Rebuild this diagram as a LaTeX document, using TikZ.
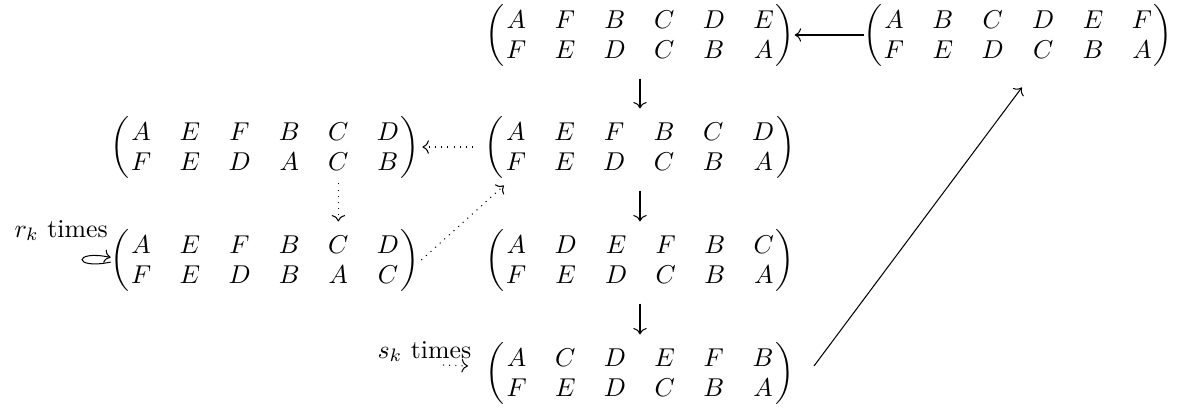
\documentclass[tikz,border=0pt]{standalone}
\usetikzlibrary{matrix,arrows.meta}
\begin{document}
\begin{tikzpicture}[x=0.3876pt,y=-0.3876pt,
  pm/.style={matrix of math nodes,
    inner xsep=0.5pt, inner ysep=2.5pt, column sep=11pt, row sep=4.8pt,
    nodes={inner sep=0pt, minimum width=7.6pt, text height=6.83pt, text depth=0pt, anchor=center}},
  lp/.style={anchor=east, inner sep=0pt, outer sep=0pt},
  rp/.style={anchor=west, inner sep=0pt, outer sep=0pt},
  cmarrow/.style={-{Computer Modern Rightarrow}, line width=0.4pt},
  dotarrow/.style={cmarrow, dotted},
  lbl/.style={anchor=base west, inner sep=0pt}]
\useasboundingbox (0,0) rectangle (1195,411);

\matrix (M0) at (1018,35) [pm] {A & B & C & D & E & F\\ F & E & D & C & B & A\\};
\matrix (M1) at (640,35) [pm] {A & F & B & C & D & E\\ F & E & D & C & B & A\\};
\matrix (M2) at (640,147) [pm] {A & E & F & B & C & D\\ F & E & D & C & B & A\\};
\matrix (M3) at (265,147) [pm] {A & E & F & B & C & D\\ F & E & D & A & C & B\\};
\matrix (M4) at (265,260) [pm] {A & E & F & B & C & D\\ F & E & D & B & A & C\\};
\matrix (M5) at (640,260) [pm] {A & D & E & F & B & C\\ F & E & D & C & B & A\\};
\matrix (M6) at (640,373) [pm] {A & C & D & E & F & B\\ F & E & D & C & B & A\\};
\foreach \m in {M0,M1,M2,M3,M4,M5,M6}{
  \node[lp] (\m l) at (\m.west) {$\biggl($};
  \node[rp] (\m r) at (\m.east) {$\biggr)$};
}

\draw[cmarrow] ([xshift=-7.2pt]M0.west) -- ([xshift=7.4pt]M1.east);
\draw[cmarrow, shorten <=5pt, shorten >=3pt] (M1.south) -- (M2.north);
\draw[cmarrow, shorten <=5pt, shorten >=3pt] (M2.south) -- (M5.north);
\draw[cmarrow, shorten <=5pt, shorten >=3pt] (M5.south) -- (M6.north);
\draw[dotarrow] ([xshift=-11.9pt]M2.west) -- ([xshift=8.4pt]M3.east);
\draw[dotarrow] ([yshift=-4.7pt]M3-2-5.south) -- ([yshift=5.5pt]M4-1-5.north);
\draw[dotarrow] ([xshift=8pt]M4.east) -- ([yshift=-3pt]M2.south west);
\draw[cmarrow] ([xshift=15pt,yshift=2.7pt]M6.east) -- ([xshift=1.5pt,yshift=-8.4pt]M0.south);

\draw[cmarrow] ([xshift=-7.2pt,yshift=-0.8pt]M4.west) .. controls +(-38,8) and +(-38,-8) .. ([xshift=-7.2pt,yshift=1pt]M4.west);

\node[lbl] (rl) at (14,237) {$r_k$ times};
\node[lbl] (sl) at (377,358) {$s_k$ times};
\coordinate (sa) at (443,365);
\coordinate (sb) at (468,366);
\draw[dotarrow] (sa) -- (sb);
\end{tikzpicture}
\end{document}
